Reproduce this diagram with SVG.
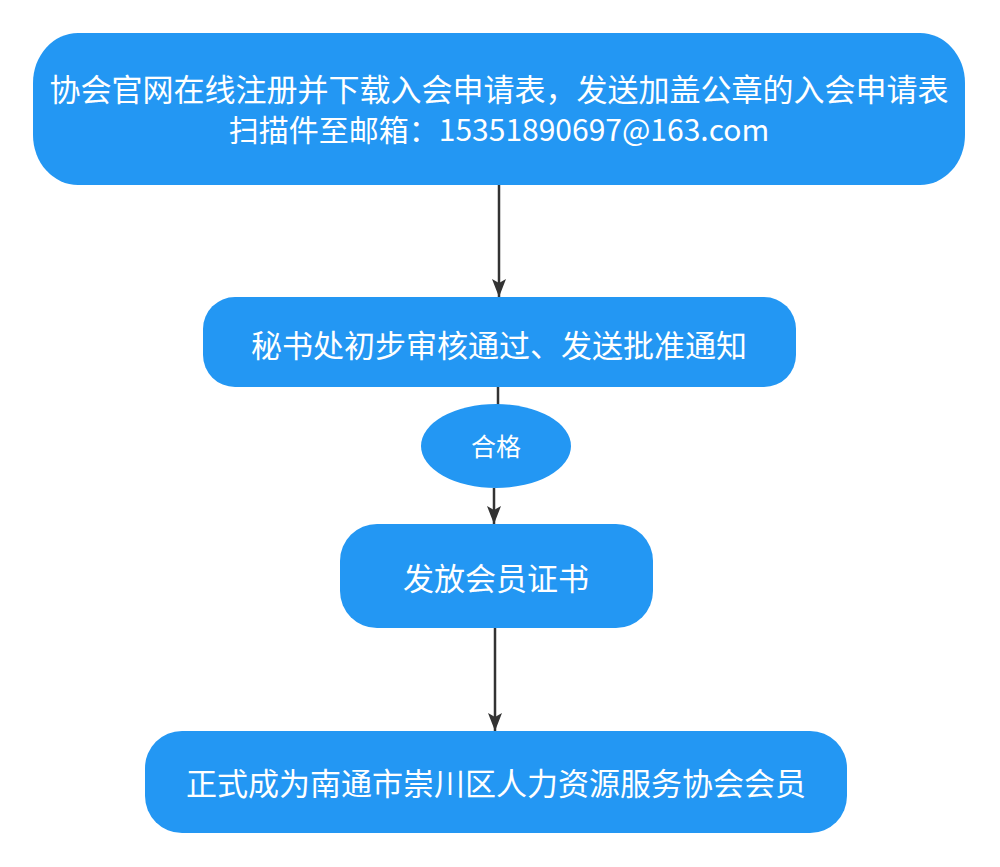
<svg xmlns="http://www.w3.org/2000/svg" width="1000" height="867" viewBox="0 0 1000 867">
<style>
.n{fill:#2397F3;stroke:none}
.t{fill:#fff;font-family:"Noto Sans CJK SC","Microsoft YaHei",sans-serif;text-anchor:middle;dominant-baseline:central;font-size:31px}
.c{stroke:#333;stroke-width:2.5;fill:none}
</style>
<defs>
<marker id="a" viewBox="0 0 18 14" refX="18" refY="7" markerWidth="18" markerHeight="14" markerUnits="userSpaceOnUse" orient="auto">
<path d="M0,0 L18,7 L0,14 L4,7 Z" fill="#333"/>
</marker>
</defs>
<rect width="1000" height="867" fill="#fff"/>
<g id="connectors">
<path class="c" d="M499,185 V297" marker-end="url(#a)"/>
<path class="c" d="M498,387 V405"/>
<path class="c" d="M494,488 V524" marker-end="url(#a)"/>
<path class="c" d="M495,628 V731" marker-end="url(#a)"/>
</g>
<g id="n1">
<rect class="n" x="33" y="33" width="932" height="152" rx="45" ry="50"/>
<text class="t" x="499" y="87">协会官网在线注册并下载入会申请表，发送加盖公章的入会申请表</text>
<text class="t" x="499" y="128" style="font-size:30px">扫描件至邮箱：15351890697@163.com</text>
</g>
<g id="n2">
<rect class="n" x="203" y="297" width="593" height="90" rx="32" ry="32"/>
<text class="t" x="499" y="343">秘书处初步审核通过、发送批准通知</text>
</g>
<g id="n3">
<ellipse class="n" cx="496" cy="446" rx="75" ry="42"/>
<text class="t" x="496" y="445" style="font-size:25px">合格</text>
</g>
<g id="n4">
<rect class="n" x="340" y="524" width="313" height="104" rx="37" ry="37"/>
<text class="t" x="496" y="576">发放会员证书</text>
</g>
<g id="n5">
<rect class="n" x="145" y="731" width="702" height="102" rx="37" ry="37"/>
<text class="t" x="496" y="781">正式成为南通市崇川区人力资源服务协会会员</text>
</g>
</svg>
